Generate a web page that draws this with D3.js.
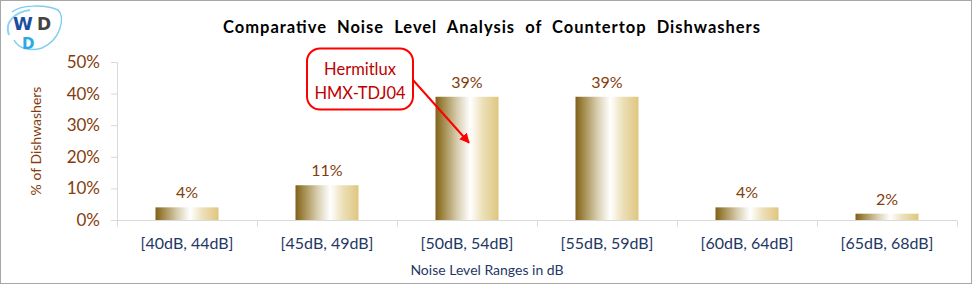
<!DOCTYPE html>
<html><head><meta charset="utf-8">
<script src="https://cdn.jsdelivr.net/npm/d3@7"></script>
<style>body{margin:0;background:#fff}svg{display:block}</style>
</head><body>
<script>
const categories = ["[40dB, 44dB]","[45dB, 49dB]","[50dB, 54dB]","[55dB, 59dB]","[60dB, 64dB]","[65dB, 68dB]"];
const values = [4, 11, 39, 39, 4, 2];
const yTicks = [0, 10, 20, 30, 40, 50];
const title = "Comparative  Noise  Level  Analysis  of  Countertop  Dishwashers";
const yTitle = "% of Dishwashers";
const xTitle = "Noise Level Ranges in dB";
const callout = ["Hermitlux", "HMX-TDJ04"];
const calloutIndex = 2;

const W = 975, H = 285;
const font = "Lato, 'Open Sans', sans-serif";
const svg = d3.select("body").append("svg").attr("width", W).attr("height", H);

const defs = svg.append("defs");
const g = defs.append("linearGradient").attr("id","gold").attr("x1","0").attr("x2","1").attr("y1","0").attr("y2","0");
[[0,"#806018"],[0.12,"#a08848"],[0.35,"#d8ceb0"],[0.55,"#ffffff"],[0.75,"#ece0b8"],[1,"#dfc680"]].forEach(([o,c])=>g.append("stop").attr("offset",o).attr("stop-color",c));
const mk = defs.append("marker").attr("id","arr").attr("viewBox","0 0 10 10").attr("refX",9).attr("refY",5)
  .attr("markerWidth",5).attr("markerHeight",5).attr("orient","auto");
mk.append("path").attr("d","M0,0L10,5L0,10z").attr("fill","#ff0000");

// border
svg.append("rect").attr("x",0.5).attr("y",0.5).attr("width",971).attr("height",283).attr("fill","none").attr("stroke","#a6a6a6");

const x = d3.scaleBand().domain(categories).range([117, 957]).paddingInner(0.55).paddingOuter(0.275);
const y = d3.scaleLinear().domain([0, 50]).range([220, 62]);

// title
svg.append("text").attr("x",223).attr("y",33).attr("textLength",537).attr("lengthAdjust","spacing")
  .attr("font-family",font).attr("font-weight","bold").attr("font-size",16.5).attr("fill","#000")
  .attr("xml:space","preserve").style("white-space","pre").text(title);

// y axis
const yAxis = svg.append("g").attr("transform","translate(117,0)")
  .call(d3.axisLeft(y).tickValues(yTicks).tickFormat(d=>d+"%").tickSize(6).tickPadding(11));
yAxis.select(".domain").attr("stroke","#d9d9d9").attr("d","M-6,62.5H0.5V220.5");
yAxis.selectAll(".tick line").attr("stroke","#d9d9d9");
yAxis.selectAll("text").attr("font-family",font).attr("font-size",17).attr("fill","#843c0c");

// x axis
const xAxis = svg.append("g").attr("transform","translate(0,220.5)")
  .call(d3.axisBottom(x).tickSize(0).tickPadding(17));
xAxis.select(".domain").attr("stroke","#d9d9d9").attr("d","M117,0H957");
xAxis.selectAll("text").attr("font-family",font).attr("font-size",16).attr("fill","#1f3864");
const bounds = [117].concat(categories.map((c,i)=>117 + (i+1)*x.step()));
xAxis.selectAll(".sep").data(bounds).join("line").attr("class","sep")
  .attr("x1",d=>Math.round(d)+0.5).attr("x2",d=>Math.round(d)+0.5).attr("y1",0).attr("y2",6).attr("stroke","#d9d9d9");

// bars
svg.append("g").selectAll("rect").data(values).join("rect")
  .attr("x",(d,i)=>x(categories[i])).attr("width",x.bandwidth())
  .attr("y",d=>y(d)).attr("height",d=>y(0)-y(d)).attr("fill","url(#gold)");

// data labels
svg.append("g").selectAll("text").data(values).join("text")
  .attr("x",(d,i)=>x(categories[i])+x.bandwidth()/2).attr("y",d=>y(d)-9)
  .attr("text-anchor","middle").attr("font-family",font).attr("font-size",16).attr("fill","#843c0c")
  .text(d=>d+"%");

// axis titles
svg.append("text").attr("transform","translate(41,141) rotate(-90)").attr("text-anchor","middle")
  .attr("font-family",font).attr("font-size",14).attr("fill","#843c0c").text(yTitle);
svg.append("text").attr("x",487).attr("y",275).attr("text-anchor","middle")
  .attr("font-family",font).attr("font-size",14).attr("fill","#1f3864").text(xTitle);

// callout
const cx = x(categories[calloutIndex]);
svg.append("line").attr("x1",413).attr("y1",80).attr("x2",cx+x.bandwidth()/2+2).attr("y2",y(values[calloutIndex])+46)
  .attr("stroke","#ff0000").attr("stroke-width",2).attr("marker-end","url(#arr)");
svg.append("rect").attr("x",307).attr("y",48.5).attr("width",106).attr("height",61).attr("rx",13)
  .attr("fill","#fff").attr("stroke","#ff0000").attr("stroke-width",2);
svg.append("text").attr("x",360).attr("y",75).attr("text-anchor","middle").attr("font-family",font)
  .attr("font-size",16.5).attr("fill","#c00000").selectAll("tspan").data(callout).join("tspan")
  .attr("x",360).attr("dy",(d,i)=>i?24:0).text(d=>d);

// logo
const logo = svg.append("g");
logo.append("path").attr("d","M12,12 C20,5 45,4 58,10 C66,18 60,40 42,48 C30,52 18,48 14,40")
  .attr("fill","none").attr("stroke","#7fcdf0").attr("stroke-width",1.5);
logo.append("path").attr("d","M9,35 C4,22 15,12 30,10").attr("fill","none").attr("stroke","#8fd3f2").attr("stroke-width",2);
logo.append("text").attr("x",13).attr("y",30).attr("font-family","'DejaVu Sans', sans-serif").attr("font-weight","bold")
  .attr("font-size",18).attr("fill","#1b4ea3").text("W");
logo.append("text").attr("x",37).attr("y",30).attr("font-family","'DejaVu Sans', sans-serif").attr("font-weight","bold")
  .attr("font-size",17).attr("fill","#444").text("D");
logo.append("text").attr("x",22).attr("y",49).attr("font-family","'DejaVu Sans', sans-serif").attr("font-weight","bold")
  .attr("font-size",15).attr("fill","#2aa9e3").text("D");
</script>
</body></html>
